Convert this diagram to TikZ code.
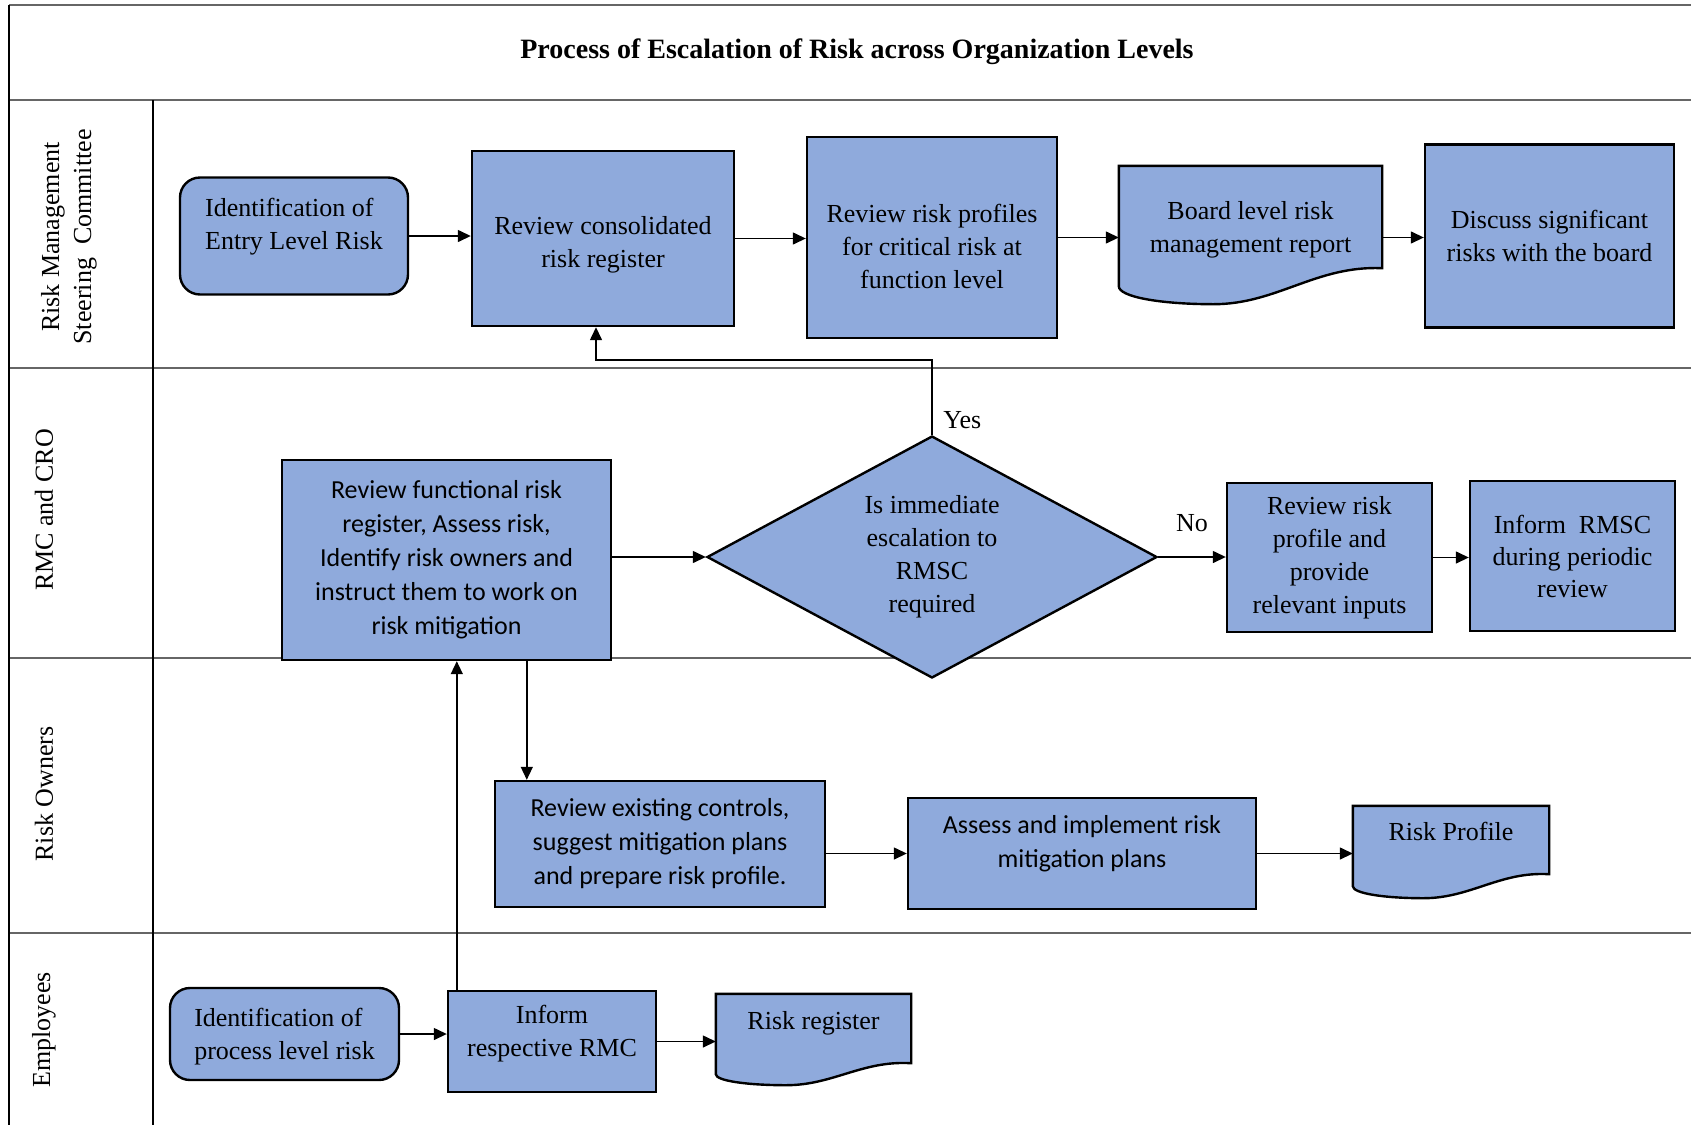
\documentclass[tikz,border=0pt]{standalone}
\usepackage{fontspec}
\setmainfont{Liberation Serif}
\newfontfamily\calibri{Carlito}
\usetikzlibrary{
    arrows.meta,
    shapes.geometric,
    calc,
    backgrounds,
}
\definecolor{boxblue}{RGB}{143,170,220}

\tikzset{
    procbox/.style={draw, line width=1.2pt, fill=boxblue, align=center, inner sep=2pt,
        font=\fontsize{13}{16.5}\selectfont},
    roundbox/.style={procbox, rounded corners=10pt, align=left},
    sansbox/.style={procbox, font=\calibri\fontsize{13}{17}\selectfont},
    docbox/.style={procbox, draw=none, fill=none},
    docline/.style={draw, line width=1.2pt, fill=boxblue},
    decision/.style={procbox, diamond, aspect=1.86, inner sep=0pt},
    texth/.style={text depth=0pt, text height=#1},
    arr/.style={-{Triangle[length=6.5pt,width=6pt]}, line width=0.7pt},
    laneline/.style={line width=1pt, draw=black!60},
    lanelbl/.style={rotate=90, align=center, font=\fontsize{13}{16}\selectfont},
    lbl/.style={inner sep=1pt, font=\fontsize{13}{16}\selectfont},
}

% document shape with wavy bottom below a node
\newcommand{\docwave}[2]{%
    \begin{scope}[on background layer]
        \draw[docline] (#1.north west) -- (#1.north east) -- (#1.south east)
            .. controls ($(#1.south east)!0.25!(#1.south west)+(0,-3)$) and ($(#1.south west)!0.6!(#1.south east)+(0,#2)$) .. ($(#1.south west)!0.36!(#1.south east)+(0,#2)$)
            .. controls ($(#1.south west)!0.16!(#1.south east)+(0,#2)$) and ($(#1.south west)+(0,0.8*#2)$) .. ($(#1.south west)+(0,0.5*#2)$)
            -- cycle;
    \end{scope}}

\begin{document}
\begin{tikzpicture}[x=0.5pt, y=-0.5pt]
    \useasboundingbox (0,0) rectangle (1691,1125);

    % lanes
    \draw[laneline] (9,5) -- (1691,5);
    \foreach \y in {100,368,658,933}
        \draw[laneline] (9,\y) -- (1691,\y);
    \draw[line width=0.6pt] (9,5) -- (9,1125);
    \draw[line width=0.6pt] (153,100) -- (153,1125);

    \node[font=\bfseries\fontsize{14}{17}\selectfont] (title) at (857,52)
        {Process of Escalation of Risk across Organization Levels};

    \node[lanelbl] (lrmsc) at (69,237) {Risk Management\\Steering~ Committee};
    \node[lanelbl] (lrmc) at (44,510) {RMC and CRO};
    \node[lanelbl] (lown) at (44,794) {Risk Owners};
    \node[lanelbl] (lemp) at (44,1030) {Employees};

    % RMSC
    \node[roundbox, texth=13.6pt, minimum width=114pt, minimum height=58.5pt] (entry) at (294,236)
        {Identification of\\Entry Level Risk};
    \node[procbox, texth=29pt, minimum width=131pt, minimum height=87.5pt] (consol) at (603,238.5)
        {Review consolidated\\risk register};
    \node[procbox, texth=50.5pt, minimum width=125pt, minimum height=100.5pt] (critical) at (932,237.5)
        {Review risk profiles\\for critical risk at\\function level};
    \node[docbox, texth=35pt, minimum width=130.5pt, minimum height=50pt] (board) at (1250.5,217)
        {Board level risk\\management report};
    \docwave{board}{36}
    \node[procbox, minimum width=124.5pt, minimum height=91.5pt] (discuss) at (1549.5,236)
        {Discuss significant\\risks with the board};

    % RMC and CRO
    \node[sansbox, minimum width=164.5pt, minimum height=100pt] (func) at (446.5,560)
        {Review functional risk\\register, Assess risk,\\Identify risk owners and\\instruct them to work on\\risk mitigation};
    \node[decision, minimum width=225pt, minimum height=121pt] (dec) at (932,557)
        {Is immediate\\escalation to\\RMSC\\required};
    \node[procbox, minimum width=102.5pt, minimum height=74.5pt] (revprof) at (1329.5,557.5)
        {Review risk\\profile and\\provide\\relevant inputs};
    \node[procbox, font=\fontsize{13}{16}\selectfont, minimum width=102.5pt, minimum height=75pt] (infrmsc) at (1572.5,556)
        {Inform~ RMSC\\during periodic\\review};

    % risk owners
    \node[sansbox, minimum width=165pt, minimum height=63pt] (existing) at (660,844)
        {Review existing controls,\\suggest mitigation plans\\and prepare risk profile.};
    \node[sansbox, texth=13.5pt, minimum width=174pt, minimum height=55.5pt] (assess) at (1082,853.5)
        {Assess and implement risk\\mitigation plans};
    \node[docbox, texth=0.9pt, minimum width=97pt, minimum height=33pt] (riskprof) at (1451,840)
        {Risk Profile};
    \docwave{riskprof}{24}

    % employees
    \node[roundbox, texth=25.8pt, minimum width=114.5pt, minimum height=46pt] (procid) at (284.5,1034)
        {Identification of\\process level risk};
    \node[procbox, texth=15pt, minimum width=104pt, minimum height=50.5pt] (informrmc) at (552,1041.5)
        {Inform\\respective RMC};
    \node[docbox, texth=0.7pt, minimum width=96.5pt, minimum height=33.5pt] (register) at (813.5,1028.5)
        {Risk register};
    \docwave{register}{22}

    % connectors
    \draw[arr] (entry.east) -- (entry.east -| consol.west);
    \draw[arr] (consol.east) -- (consol.east -| critical.west);
    \draw[arr] (critical.east) -- (critical.east -| board.west);
    \draw[arr] (board.east |- critical.east) -- (critical.east -| discuss.west);

    \draw[arr] (dec.west -| func.east) -- (dec.west);
    \draw[arr] (dec.north) -- ++(0,-75) -| ([xshift=-3.5pt]consol.south);
    \node[lbl, anchor=south west] (yes) at ([xshift=4.5pt,yshift=2pt]dec.north) {Yes};
    \draw[arr] (dec.east) -- node[lbl, above=11.5pt] (no) {No} (dec.east -| revprof.west);
    \draw[arr] (revprof.east) -- (revprof.east -| infrmsc.west);

    \coordinate (down) at ([xshift=123pt]func.south west);
    \draw[arr] (down) -- (down |- existing.north);
    \draw[arr] (assess.west -| existing.east) -- (assess.west);
    \draw[arr] (assess.east) -- (assess.east -| riskprof.west);

    \coordinate (up) at ([xshift=5pt]informrmc.north west);
    \draw[arr] (up) -- (up |- func.south);
    \draw[arr] (procid.east) -- (procid.east -| informrmc.west);
    \draw[arr] (informrmc.east) -- (informrmc.east -| register.west);
\end{tikzpicture}
\end{document}
